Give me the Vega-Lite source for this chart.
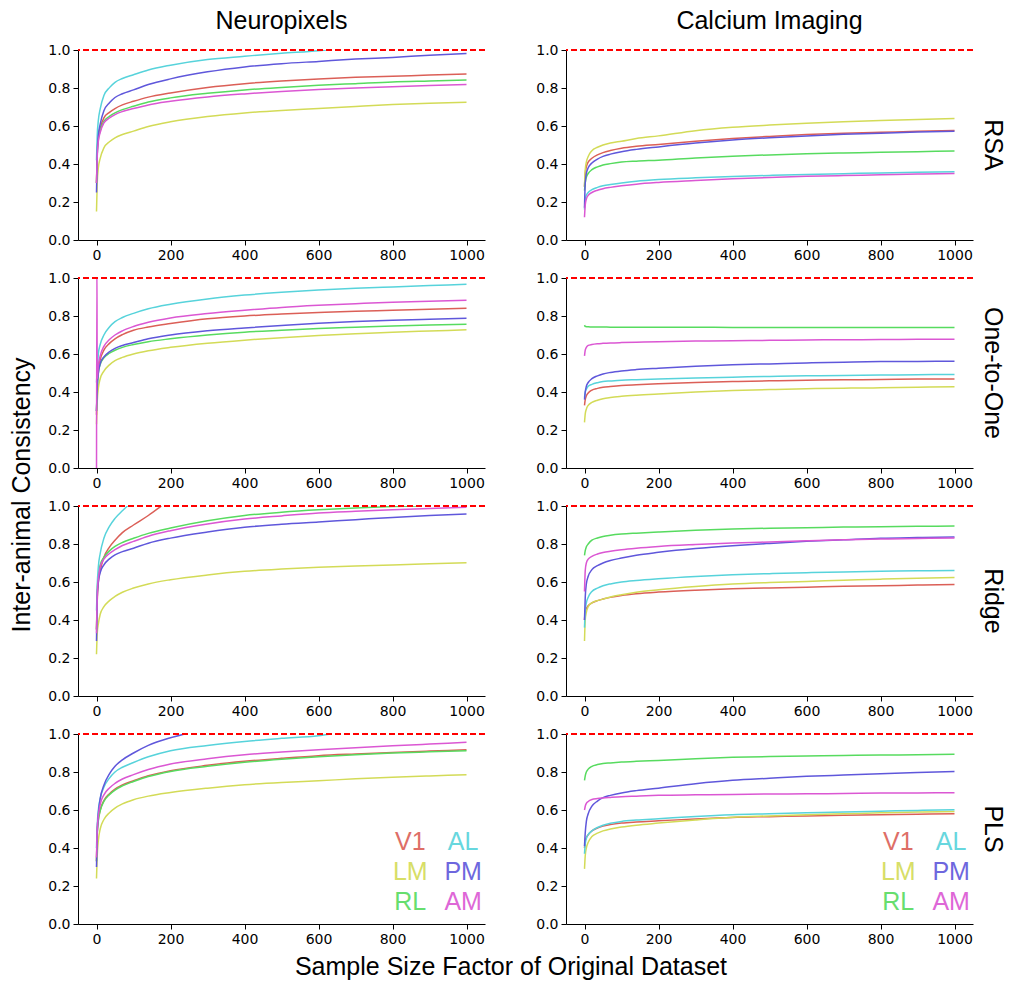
{
  "$schema": "https://vega.github.io/schema/vega-lite/v6.json",
  "background": "white",
  "padding": {"left": 9, "top": 9, "right": 5, "bottom": 5},
  "bounds": "flush",
  "spacing": {"row": 38, "column": 81},
  "data": {"values": [
    {"d":"Neuropixels","m":"RSA","x":0,"V1":0.30,"LM":0.15,"RL":0.30,"AL":0.42,"PM":0.25,"AM":0.30},
    {"d":"Neuropixels","m":"RSA","x":2,"V1":0.47,"LM":0.30,"RL":0.45,"AL":0.55,"PM":0.45,"AM":0.44},
    {"d":"Neuropixels","m":"RSA","x":5,"V1":0.55,"LM":0.38,"RL":0.53,"AL":0.63,"PM":0.55,"AM":0.52},
    {"d":"Neuropixels","m":"RSA","x":10,"V1":0.59,"LM":0.43,"RL":0.575,"AL":0.69,"PM":0.61,"AM":0.565},
    {"d":"Neuropixels","m":"RSA","x":20,"V1":0.643,"LM":0.485,"RL":0.625,"AL":0.76,"PM":0.68,"AM":0.616},
    {"d":"Neuropixels","m":"RSA","x":35,"V1":0.672,"LM":0.517,"RL":0.651,"AL":0.802,"PM":0.722,"AM":0.642},
    {"d":"Neuropixels","m":"RSA","x":50,"V1":0.692,"LM":0.538,"RL":0.669,"AL":0.83,"PM":0.75,"AM":0.66},
    {"d":"Neuropixels","m":"RSA","x":70,"V1":0.711,"LM":0.555,"RL":0.686,"AL":0.85,"PM":0.77,"AM":0.676},
    {"d":"Neuropixels","m":"RSA","x":100,"V1":0.73,"LM":0.573,"RL":0.704,"AL":0.87,"PM":0.79,"AM":0.692},
    {"d":"Neuropixels","m":"RSA","x":140,"V1":0.752,"LM":0.597,"RL":0.726,"AL":0.895,"PM":0.818,"AM":0.711},
    {"d":"Neuropixels","m":"RSA","x":200,"V1":0.774,"LM":0.622,"RL":0.748,"AL":0.92,"PM":0.848,"AM":0.73},
    {"d":"Neuropixels","m":"RSA","x":300,"V1":0.803,"LM":0.65,"RL":0.772,"AL":0.95,"PM":0.885,"AM":0.753},
    {"d":"Neuropixels","m":"RSA","x":400,"V1":0.823,"LM":0.669,"RL":0.79,"AL":0.967,"PM":0.911,"AM":0.769},
    {"d":"Neuropixels","m":"RSA","x":500,"V1":0.837,"LM":0.682,"RL":0.803,"AL":0.983,"PM":0.928,"AM":0.782},
    {"d":"Neuropixels","m":"RSA","x":600,"V1":0.848,"LM":0.692,"RL":0.814,"AL":0.996,"PM":0.94,"AM":0.792},
    {"d":"Neuropixels","m":"RSA","x":620,"AL":1.0},
    {"d":"Neuropixels","m":"RSA","x":700,"V1":0.856,"LM":0.703,"RL":0.823,"PM":0.952,"AM":0.80},
    {"d":"Neuropixels","m":"RSA","x":800,"V1":0.862,"LM":0.713,"RL":0.832,"PM":0.961,"AM":0.807},
    {"d":"Neuropixels","m":"RSA","x":900,"V1":0.868,"LM":0.72,"RL":0.837,"PM":0.972,"AM":0.813},
    {"d":"Neuropixels","m":"RSA","x":1000,"V1":0.874,"LM":0.725,"RL":0.842,"PM":0.981,"AM":0.818},

    {"d":"Calcium Imaging","m":"RSA","x":0,"V1":0.28,"LM":0.28,"RL":0.26,"AL":0.16,"PM":0.17,"AM":0.12},
    {"d":"Calcium Imaging","m":"RSA","x":2,"V1":0.35,"LM":0.37,"RL":0.30,"AL":0.215,"PM":0.30,"AM":0.185},
    {"d":"Calcium Imaging","m":"RSA","x":5,"V1":0.385,"LM":0.41,"RL":0.33,"AL":0.235,"PM":0.35,"AM":0.215},
    {"d":"Calcium Imaging","m":"RSA","x":10,"V1":0.41,"LM":0.44,"RL":0.35,"AL":0.25,"PM":0.38,"AM":0.235},
    {"d":"Calcium Imaging","m":"RSA","x":20,"V1":0.43,"LM":0.47,"RL":0.37,"AL":0.265,"PM":0.405,"AM":0.25},
    {"d":"Calcium Imaging","m":"RSA","x":35,"V1":0.448,"LM":0.488,"RL":0.385,"AL":0.277,"PM":0.426,"AM":0.262},
    {"d":"Calcium Imaging","m":"RSA","x":50,"V1":0.46,"LM":0.50,"RL":0.395,"AL":0.285,"PM":0.44,"AM":0.27},
    {"d":"Calcium Imaging","m":"RSA","x":70,"V1":0.471,"LM":0.51,"RL":0.402,"AL":0.292,"PM":0.452,"AM":0.277},
    {"d":"Calcium Imaging","m":"RSA","x":100,"V1":0.483,"LM":0.52,"RL":0.41,"AL":0.30,"PM":0.465,"AM":0.285},
    {"d":"Calcium Imaging","m":"RSA","x":140,"V1":0.493,"LM":0.534,"RL":0.415,"AL":0.309,"PM":0.477,"AM":0.294},
    {"d":"Calcium Imaging","m":"RSA","x":200,"V1":0.503,"LM":0.548,"RL":0.42,"AL":0.318,"PM":0.49,"AM":0.303},
    {"d":"Calcium Imaging","m":"RSA","x":300,"V1":0.52,"LM":0.575,"RL":0.432,"AL":0.327,"PM":0.51,"AM":0.313},
    {"d":"Calcium Imaging","m":"RSA","x":400,"V1":0.534,"LM":0.593,"RL":0.441,"AL":0.334,"PM":0.526,"AM":0.322},
    {"d":"Calcium Imaging","m":"RSA","x":500,"V1":0.545,"LM":0.605,"RL":0.448,"AL":0.34,"PM":0.538,"AM":0.329},
    {"d":"Calcium Imaging","m":"RSA","x":600,"V1":0.555,"LM":0.615,"RL":0.454,"AL":0.345,"PM":0.548,"AM":0.335},
    {"d":"Calcium Imaging","m":"RSA","x":700,"V1":0.562,"LM":0.623,"RL":0.458,"AL":0.349,"PM":0.556,"AM":0.339},
    {"d":"Calcium Imaging","m":"RSA","x":800,"V1":0.567,"LM":0.629,"RL":0.462,"AL":0.353,"PM":0.562,"AM":0.343},
    {"d":"Calcium Imaging","m":"RSA","x":900,"V1":0.572,"LM":0.634,"RL":0.465,"AL":0.356,"PM":0.568,"AM":0.347},
    {"d":"Calcium Imaging","m":"RSA","x":1000,"V1":0.576,"LM":0.639,"RL":0.468,"AL":0.359,"PM":0.573,"AM":0.35},

    {"d":"Neuropixels","m":"One-to-One","x":0,"V1":0.28,"LM":0.23,"RL":0.30,"AL":0.45,"PM":0.30,"AM":-0.1},
    {"d":"Neuropixels","m":"One-to-One","x":1,"AM":1.1},
    {"d":"Neuropixels","m":"One-to-One","x":2,"V1":0.44,"LM":0.35,"RL":0.42,"AL":0.52,"PM":0.43,"AM":0.47},
    {"d":"Neuropixels","m":"One-to-One","x":5,"V1":0.52,"LM":0.42,"RL":0.50,"AL":0.60,"PM":0.50,"AM":0.54},
    {"d":"Neuropixels","m":"One-to-One","x":10,"V1":0.57,"LM":0.47,"RL":0.545,"AL":0.65,"PM":0.55,"AM":0.59},
    {"d":"Neuropixels","m":"One-to-One","x":20,"V1":0.62,"LM":0.51,"RL":0.58,"AL":0.70,"PM":0.585,"AM":0.64},
    {"d":"Neuropixels","m":"One-to-One","x":35,"V1":0.656,"LM":0.543,"RL":0.604,"AL":0.742,"PM":0.612,"AM":0.676},
    {"d":"Neuropixels","m":"One-to-One","x":50,"V1":0.68,"LM":0.565,"RL":0.62,"AL":0.77,"PM":0.63,"AM":0.70},
    {"d":"Neuropixels","m":"One-to-One","x":70,"V1":0.702,"LM":0.582,"RL":0.635,"AL":0.792,"PM":0.645,"AM":0.722},
    {"d":"Neuropixels","m":"One-to-One","x":100,"V1":0.725,"LM":0.60,"RL":0.65,"AL":0.814,"PM":0.66,"AM":0.745},
    {"d":"Neuropixels","m":"One-to-One","x":140,"V1":0.742,"LM":0.617,"RL":0.665,"AL":0.838,"PM":0.68,"AM":0.767},
    {"d":"Neuropixels","m":"One-to-One","x":200,"V1":0.76,"LM":0.635,"RL":0.68,"AL":0.862,"PM":0.70,"AM":0.79},
    {"d":"Neuropixels","m":"One-to-One","x":300,"V1":0.785,"LM":0.657,"RL":0.70,"AL":0.89,"PM":0.722,"AM":0.813},
    {"d":"Neuropixels","m":"One-to-One","x":400,"V1":0.80,"LM":0.673,"RL":0.715,"AL":0.91,"PM":0.737,"AM":0.83},
    {"d":"Neuropixels","m":"One-to-One","x":500,"V1":0.81,"LM":0.686,"RL":0.725,"AL":0.925,"PM":0.75,"AM":0.845},
    {"d":"Neuropixels","m":"One-to-One","x":600,"V1":0.818,"LM":0.697,"RL":0.734,"AL":0.937,"PM":0.762,"AM":0.856},
    {"d":"Neuropixels","m":"One-to-One","x":700,"V1":0.825,"LM":0.706,"RL":0.741,"AL":0.946,"PM":0.771,"AM":0.865},
    {"d":"Neuropixels","m":"One-to-One","x":800,"V1":0.83,"LM":0.715,"RL":0.748,"AL":0.953,"PM":0.778,"AM":0.873},
    {"d":"Neuropixels","m":"One-to-One","x":900,"V1":0.836,"LM":0.721,"RL":0.753,"AL":0.96,"PM":0.783,"AM":0.878},
    {"d":"Neuropixels","m":"One-to-One","x":1000,"V1":0.841,"LM":0.727,"RL":0.757,"AL":0.967,"PM":0.788,"AM":0.883},

    {"d":"Calcium Imaging","m":"One-to-One","x":0,"V1":0.33,"LM":0.24,"RL":0.752,"AL":0.37,"PM":0.36,"AM":0.59},
    {"d":"Calcium Imaging","m":"One-to-One","x":2,"V1":0.36,"LM":0.285,"RL":0.745,"AL":0.40,"PM":0.40,"AM":0.62},
    {"d":"Calcium Imaging","m":"One-to-One","x":5,"V1":0.38,"LM":0.31,"RL":0.744,"AL":0.415,"PM":0.43,"AM":0.635},
    {"d":"Calcium Imaging","m":"One-to-One","x":10,"V1":0.395,"LM":0.33,"RL":0.743,"AL":0.43,"PM":0.45,"AM":0.645},
    {"d":"Calcium Imaging","m":"One-to-One","x":20,"V1":0.41,"LM":0.345,"RL":0.742,"AL":0.44,"PM":0.47,"AM":0.65},
    {"d":"Calcium Imaging","m":"One-to-One","x":35,"V1":0.419,"LM":0.357,"RL":0.742,"AL":0.449,"PM":0.485,"AM":0.654},
    {"d":"Calcium Imaging","m":"One-to-One","x":50,"V1":0.425,"LM":0.365,"RL":0.742,"AL":0.455,"PM":0.495,"AM":0.656},
    {"d":"Calcium Imaging","m":"One-to-One","x":70,"V1":0.429,"LM":0.371,"RL":0.741,"AL":0.458,"PM":0.503,"AM":0.658},
    {"d":"Calcium Imaging","m":"One-to-One","x":100,"V1":0.434,"LM":0.377,"RL":0.741,"AL":0.462,"PM":0.511,"AM":0.66},
    {"d":"Calcium Imaging","m":"One-to-One","x":140,"V1":0.438,"LM":0.383,"RL":0.741,"AL":0.465,"PM":0.518,"AM":0.662},
    {"d":"Calcium Imaging","m":"One-to-One","x":200,"V1":0.443,"LM":0.39,"RL":0.741,"AL":0.469,"PM":0.525,"AM":0.665},
    {"d":"Calcium Imaging","m":"One-to-One","x":300,"V1":0.45,"LM":0.40,"RL":0.741,"AL":0.474,"PM":0.535,"AM":0.668},
    {"d":"Calcium Imaging","m":"One-to-One","x":400,"V1":0.455,"LM":0.408,"RL":0.740,"AL":0.478,"PM":0.543,"AM":0.67},
    {"d":"Calcium Imaging","m":"One-to-One","x":500,"V1":0.459,"LM":0.413,"RL":0.740,"AL":0.482,"PM":0.548,"AM":0.672},
    {"d":"Calcium Imaging","m":"One-to-One","x":600,"V1":0.462,"LM":0.417,"RL":0.740,"AL":0.485,"PM":0.553,"AM":0.674},
    {"d":"Calcium Imaging","m":"One-to-One","x":700,"V1":0.464,"LM":0.42,"RL":0.740,"AL":0.487,"PM":0.557,"AM":0.675},
    {"d":"Calcium Imaging","m":"One-to-One","x":800,"V1":0.466,"LM":0.422,"RL":0.739,"AL":0.489,"PM":0.56,"AM":0.676},
    {"d":"Calcium Imaging","m":"One-to-One","x":900,"V1":0.468,"LM":0.425,"RL":0.739,"AL":0.491,"PM":0.561,"AM":0.677},
    {"d":"Calcium Imaging","m":"One-to-One","x":1000,"V1":0.469,"LM":0.427,"RL":0.739,"AL":0.492,"PM":0.562,"AM":0.678},

    {"d":"Neuropixels","m":"Ridge","x":0,"V1":0.35,"LM":0.22,"RL":0.35,"AL":0.45,"PM":0.29,"AM":0.33},
    {"d":"Neuropixels","m":"Ridge","x":2,"V1":0.50,"LM":0.33,"RL":0.55,"AL":0.58,"PM":0.52,"AM":0.54},
    {"d":"Neuropixels","m":"Ridge","x":5,"V1":0.60,"LM":0.38,"RL":0.63,"AL":0.68,"PM":0.60,"AM":0.62},
    {"d":"Neuropixels","m":"Ridge","x":10,"V1":0.66,"LM":0.43,"RL":0.69,"AL":0.75,"PM":0.65,"AM":0.68},
    {"d":"Neuropixels","m":"Ridge","x":20,"V1":0.73,"LM":0.47,"RL":0.73,"AL":0.83,"PM":0.69,"AM":0.72},
    {"d":"Neuropixels","m":"Ridge","x":35,"V1":0.784,"LM":0.502,"RL":0.764,"AL":0.893,"PM":0.722,"AM":0.75},
    {"d":"Neuropixels","m":"Ridge","x":50,"V1":0.82,"LM":0.524,"RL":0.787,"AL":0.935,"PM":0.743,"AM":0.77},
    {"d":"Neuropixels","m":"Ridge","x":70,"V1":0.86,"LM":0.546,"RL":0.808,"AL":0.975,"PM":0.76,"AM":0.792},
    {"d":"Neuropixels","m":"Ridge","x":84,"AL":1.0},
    {"d":"Neuropixels","m":"Ridge","x":100,"V1":0.90,"LM":0.568,"RL":0.83,"PM":0.778,"AM":0.814},
    {"d":"Neuropixels","m":"Ridge","x":140,"V1":0.95,"LM":0.59,"RL":0.856,"PM":0.804,"AM":0.841},
    {"d":"Neuropixels","m":"Ridge","x":175,"V1":1.0},
    {"d":"Neuropixels","m":"Ridge","x":200,"LM":0.612,"RL":0.884,"PM":0.831,"AM":0.87},
    {"d":"Neuropixels","m":"Ridge","x":300,"LM":0.637,"RL":0.922,"PM":0.863,"AM":0.905},
    {"d":"Neuropixels","m":"Ridge","x":400,"LM":0.656,"RL":0.95,"PM":0.888,"AM":0.931},
    {"d":"Neuropixels","m":"Ridge","x":500,"LM":0.668,"RL":0.967,"PM":0.904,"AM":0.948},
    {"d":"Neuropixels","m":"Ridge","x":600,"LM":0.677,"RL":0.98,"PM":0.916,"AM":0.963},
    {"d":"Neuropixels","m":"Ridge","x":700,"LM":0.684,"RL":0.99,"PM":0.928,"AM":0.972},
    {"d":"Neuropixels","m":"Ridge","x":800,"LM":0.69,"RL":0.997,"PM":0.94,"AM":0.98},
    {"d":"Neuropixels","m":"Ridge","x":870,"RL":1.0},
    {"d":"Neuropixels","m":"Ridge","x":900,"LM":0.696,"PM":0.95,"AM":0.987},
    {"d":"Neuropixels","m":"Ridge","x":1000,"LM":0.701,"PM":0.958,"AM":0.993},

    {"d":"Calcium Imaging","m":"Ridge","x":0,"V1":0.40,"LM":0.29,"RL":0.74,"AL":0.36,"PM":0.40,"AM":0.55},
    {"d":"Calcium Imaging","m":"Ridge","x":2,"V1":0.445,"LM":0.40,"RL":0.765,"AL":0.45,"PM":0.52,"AM":0.66},
    {"d":"Calcium Imaging","m":"Ridge","x":5,"V1":0.46,"LM":0.44,"RL":0.785,"AL":0.49,"PM":0.59,"AM":0.70},
    {"d":"Calcium Imaging","m":"Ridge","x":10,"V1":0.475,"LM":0.47,"RL":0.80,"AL":0.52,"PM":0.63,"AM":0.72},
    {"d":"Calcium Imaging","m":"Ridge","x":20,"V1":0.49,"LM":0.49,"RL":0.82,"AL":0.55,"PM":0.665,"AM":0.735},
    {"d":"Calcium Imaging","m":"Ridge","x":35,"V1":0.502,"LM":0.502,"RL":0.832,"AL":0.568,"PM":0.686,"AM":0.747},
    {"d":"Calcium Imaging","m":"Ridge","x":50,"V1":0.51,"LM":0.51,"RL":0.84,"AL":0.58,"PM":0.70,"AM":0.755},
    {"d":"Calcium Imaging","m":"Ridge","x":70,"V1":0.519,"LM":0.521,"RL":0.846,"AL":0.59,"PM":0.713,"AM":0.762},
    {"d":"Calcium Imaging","m":"Ridge","x":100,"V1":0.529,"LM":0.533,"RL":0.852,"AL":0.60,"PM":0.726,"AM":0.77},
    {"d":"Calcium Imaging","m":"Ridge","x":140,"V1":0.538,"LM":0.546,"RL":0.857,"AL":0.608,"PM":0.741,"AM":0.778},
    {"d":"Calcium Imaging","m":"Ridge","x":200,"V1":0.547,"LM":0.559,"RL":0.863,"AL":0.617,"PM":0.756,"AM":0.787},
    {"d":"Calcium Imaging","m":"Ridge","x":300,"V1":0.557,"LM":0.576,"RL":0.872,"AL":0.629,"PM":0.776,"AM":0.797},
    {"d":"Calcium Imaging","m":"Ridge","x":400,"V1":0.564,"LM":0.589,"RL":0.879,"AL":0.638,"PM":0.791,"AM":0.805},
    {"d":"Calcium Imaging","m":"Ridge","x":500,"V1":0.569,"LM":0.597,"RL":0.883,"AL":0.644,"PM":0.803,"AM":0.811},
    {"d":"Calcium Imaging","m":"Ridge","x":600,"V1":0.573,"LM":0.603,"RL":0.886,"AL":0.649,"PM":0.814,"AM":0.817},
    {"d":"Calcium Imaging","m":"Ridge","x":700,"V1":0.577,"LM":0.609,"RL":0.889,"AL":0.653,"PM":0.822,"AM":0.822},
    {"d":"Calcium Imaging","m":"Ridge","x":800,"V1":0.58,"LM":0.615,"RL":0.891,"AL":0.656,"PM":0.83,"AM":0.826},
    {"d":"Calcium Imaging","m":"Ridge","x":900,"V1":0.584,"LM":0.62,"RL":0.893,"AL":0.659,"PM":0.834,"AM":0.829},
    {"d":"Calcium Imaging","m":"Ridge","x":1000,"V1":0.587,"LM":0.624,"RL":0.895,"AL":0.661,"PM":0.837,"AM":0.831},

    {"d":"Neuropixels","m":"PLS","x":0,"V1":0.33,"LM":0.24,"RL":0.33,"AL":0.40,"PM":0.30,"AM":0.35},
    {"d":"Neuropixels","m":"PLS","x":2,"V1":0.48,"LM":0.36,"RL":0.475,"AL":0.52,"PM":0.48,"AM":0.50},
    {"d":"Neuropixels","m":"PLS","x":5,"V1":0.55,"LM":0.44,"RL":0.545,"AL":0.60,"PM":0.58,"AM":0.57},
    {"d":"Neuropixels","m":"PLS","x":10,"V1":0.60,"LM":0.50,"RL":0.595,"AL":0.66,"PM":0.66,"AM":0.63},
    {"d":"Neuropixels","m":"PLS","x":20,"V1":0.65,"LM":0.55,"RL":0.645,"AL":0.72,"PM":0.73,"AM":0.68},
    {"d":"Neuropixels","m":"PLS","x":35,"V1":0.686,"LM":0.586,"RL":0.681,"AL":0.768,"PM":0.79,"AM":0.716},
    {"d":"Neuropixels","m":"PLS","x":50,"V1":0.71,"LM":0.61,"RL":0.705,"AL":0.80,"PM":0.83,"AM":0.74},
    {"d":"Neuropixels","m":"PLS","x":70,"V1":0.732,"LM":0.632,"RL":0.727,"AL":0.825,"PM":0.864,"AM":0.763},
    {"d":"Neuropixels","m":"PLS","x":100,"V1":0.754,"LM":0.654,"RL":0.75,"AL":0.85,"PM":0.90,"AM":0.786},
    {"d":"Neuropixels","m":"PLS","x":140,"V1":0.78,"LM":0.673,"RL":0.776,"AL":0.88,"PM":0.94,"AM":0.813},
    {"d":"Neuropixels","m":"PLS","x":200,"V1":0.807,"LM":0.692,"RL":0.803,"AL":0.912,"PM":0.98,"AM":0.842},
    {"d":"Neuropixels","m":"PLS","x":238,"PM":1.0},
    {"d":"Neuropixels","m":"PLS","x":300,"V1":0.835,"LM":0.715,"RL":0.83,"AL":0.94,"AM":0.87},
    {"d":"Neuropixels","m":"PLS","x":400,"V1":0.856,"LM":0.733,"RL":0.851,"AL":0.961,"AM":0.891},
    {"d":"Neuropixels","m":"PLS","x":500,"V1":0.872,"LM":0.745,"RL":0.867,"AL":0.977,"AM":0.905},
    {"d":"Neuropixels","m":"PLS","x":600,"V1":0.886,"LM":0.754,"RL":0.88,"AL":0.991,"AM":0.917},
    {"d":"Neuropixels","m":"PLS","x":634,"AL":1.0},
    {"d":"Neuropixels","m":"PLS","x":700,"V1":0.895,"LM":0.764,"RL":0.891,"AM":0.928},
    {"d":"Neuropixels","m":"PLS","x":800,"V1":0.903,"LM":0.772,"RL":0.90,"AM":0.938},
    {"d":"Neuropixels","m":"PLS","x":900,"V1":0.91,"LM":0.779,"RL":0.906,"AM":0.947},
    {"d":"Neuropixels","m":"PLS","x":1000,"V1":0.917,"LM":0.786,"RL":0.912,"AM":0.956},

    {"d":"Calcium Imaging","m":"PLS","x":0,"V1":0.40,"LM":0.29,"RL":0.756,"AL":0.37,"PM":0.41,"AM":0.60},
    {"d":"Calcium Imaging","m":"PLS","x":2,"V1":0.44,"LM":0.36,"RL":0.78,"AL":0.42,"PM":0.48,"AM":0.62},
    {"d":"Calcium Imaging","m":"PLS","x":5,"V1":0.455,"LM":0.40,"RL":0.80,"AL":0.45,"PM":0.54,"AM":0.635},
    {"d":"Calcium Imaging","m":"PLS","x":10,"V1":0.47,"LM":0.43,"RL":0.815,"AL":0.47,"PM":0.58,"AM":0.645},
    {"d":"Calcium Imaging","m":"PLS","x":20,"V1":0.49,"LM":0.46,"RL":0.83,"AL":0.49,"PM":0.62,"AM":0.655},
    {"d":"Calcium Imaging","m":"PLS","x":35,"V1":0.505,"LM":0.478,"RL":0.839,"AL":0.508,"PM":0.647,"AM":0.66},
    {"d":"Calcium Imaging","m":"PLS","x":50,"V1":0.515,"LM":0.49,"RL":0.845,"AL":0.52,"PM":0.665,"AM":0.663},
    {"d":"Calcium Imaging","m":"PLS","x":70,"V1":0.523,"LM":0.50,"RL":0.848,"AL":0.53,"PM":0.677,"AM":0.666},
    {"d":"Calcium Imaging","m":"PLS","x":100,"V1":0.531,"LM":0.51,"RL":0.852,"AL":0.54,"PM":0.69,"AM":0.67},
    {"d":"Calcium Imaging","m":"PLS","x":140,"V1":0.537,"LM":0.52,"RL":0.856,"AL":0.547,"PM":0.702,"AM":0.673},
    {"d":"Calcium Imaging","m":"PLS","x":200,"V1":0.543,"LM":0.531,"RL":0.861,"AL":0.554,"PM":0.715,"AM":0.677},
    {"d":"Calcium Imaging","m":"PLS","x":300,"V1":0.553,"LM":0.548,"RL":0.87,"AL":0.566,"PM":0.738,"AM":0.68},
    {"d":"Calcium Imaging","m":"PLS","x":400,"V1":0.561,"LM":0.562,"RL":0.877,"AL":0.575,"PM":0.756,"AM":0.682},
    {"d":"Calcium Imaging","m":"PLS","x":500,"V1":0.565,"LM":0.569,"RL":0.881,"AL":0.58,"PM":0.767,"AM":0.684},
    {"d":"Calcium Imaging","m":"PLS","x":600,"V1":0.569,"LM":0.575,"RL":0.884,"AL":0.585,"PM":0.777,"AM":0.685},
    {"d":"Calcium Imaging","m":"PLS","x":700,"V1":0.572,"LM":0.58,"RL":0.887,"AL":0.59,"PM":0.784,"AM":0.687},
    {"d":"Calcium Imaging","m":"PLS","x":800,"V1":0.575,"LM":0.585,"RL":0.889,"AL":0.594,"PM":0.791,"AM":0.689},
    {"d":"Calcium Imaging","m":"PLS","x":900,"V1":0.578,"LM":0.589,"RL":0.891,"AL":0.598,"PM":0.797,"AM":0.69},
    {"d":"Calcium Imaging","m":"PLS","x":1000,"V1":0.58,"LM":0.592,"RL":0.893,"AL":0.601,"PM":0.803,"AM":0.691},

    {"d":"Neuropixels","m":"PLS","lab":"V1"},
    {"d":"Neuropixels","m":"PLS","lab":"LM"},
    {"d":"Neuropixels","m":"PLS","lab":"RL"},
    {"d":"Neuropixels","m":"PLS","lab":"AL"},
    {"d":"Neuropixels","m":"PLS","lab":"PM"},
    {"d":"Neuropixels","m":"PLS","lab":"AM"},
    {"d":"Calcium Imaging","m":"PLS","lab":"V1"},
    {"d":"Calcium Imaging","m":"PLS","lab":"LM"},
    {"d":"Calcium Imaging","m":"PLS","lab":"RL"},
    {"d":"Calcium Imaging","m":"PLS","lab":"AL"},
    {"d":"Calcium Imaging","m":"PLS","lab":"PM"},
    {"d":"Calcium Imaging","m":"PLS","lab":"AM"}
  ]},
  "facet": {
    "row": {
      "field": "m", "type": "nominal",
      "sort": ["RSA", "One-to-One", "Ridge", "PLS"],
      "title": "Inter-animal Consistency",
      "header": {
        "labelOrient": "right", "titleOrient": "left",
        "labelAngle": 90, "labelAlign": "center", "labelBaseline": "alphabetic",
        "labelFont": "Liberation Sans", "labelFontSize": 25, "labelColor": "black", "labelPadding": -13,
        "titleFont": "Liberation Sans", "titleFontSize": 25, "titleFontWeight": "normal", "titleColor": "black",
        "titleAngle": 270, "titleBaseline": "alphabetic", "titlePadding": 13
      }
    },
    "column": {
      "field": "d", "type": "nominal",
      "sort": ["Neuropixels", "Calcium Imaging"],
      "title": "Sample Size Factor of Original Dataset",
      "header": {
        "labelOrient": "top", "titleOrient": "bottom",
        "labelAngle": 0, "labelAlign": "center", "labelBaseline": "alphabetic",
        "labelFont": "Liberation Sans", "labelFontSize": 25, "labelColor": "black", "labelPadding": -4,
        "titleFont": "Liberation Sans", "titleFontSize": 25, "titleFontWeight": "normal", "titleColor": "black",
        "titleBaseline": "alphabetic", "titlePadding": 41
      }
    }
  },
  "spec": {
    "width": 407,
    "height": 190,
    "encoding": {
      "x": {"type": "quantitative",
            "scale": {"domain": [-50, 1050], "nice": false, "zero": false},
            "axis": {"values": [0, 200, 400, 600, 800, 1000], "format": "d", "title": null, "labelOverlap": false}},
      "y": {"type": "quantitative",
            "scale": {"domain": [0, 1], "nice": false, "zero": false},
            "axis": {"values": [0, 0.2, 0.4, 0.6, 0.8, 1], "format": ".1f", "title": null, "labelOverlap": false}},
      "color": {"type": "nominal",
                "scale": {"domain": ["V1", "LM", "RL", "AL", "PM", "AM"],
                          "range": ["#db5f57", "#d3db57", "#57db5f", "#57d3db", "#5f57db", "#db57d3"]},
                "legend": null}
    },
    "layer": [
      {
        "transform": [
          {"fold": ["V1", "LM", "RL", "AL", "PM", "AM"], "as": ["area", "value"]},
          {"filter": "isValid(datum.value) && isValid(datum.x)"}
        ],
        "mark": {"type": "line", "strokeWidth": 1.5, "clip": true, "interpolate": "monotone"},
        "encoding": {
          "x": {"field": "x"},
          "y": {"field": "value"},
          "color": {"field": "area"},
          "order": {"field": "x", "type": "quantitative"}
        }
      },
      {
        "transform": [{"filter": "datum.x === 0"}],
        "mark": {"type": "rule", "color": "#ff0000", "strokeWidth": 2, "strokeDash": [6, 3]},
        "encoding": {"y": {"datum": 1}}
      },
      {
        "transform": [{"filter": "datum.lab === 'V1'"}],
        "mark": {"type": "text", "font": "Liberation Sans", "fontSize": 25, "align": "center", "baseline": "middle", "opacity": 0.9},
        "encoding": {"x": {"datum": 848}, "y": {"datum": 0.432}, "text": {"field": "lab"}, "color": {"field": "lab"}}
      },
      {
        "transform": [{"filter": "datum.lab === 'LM'"}],
        "mark": {"type": "text", "font": "Liberation Sans", "fontSize": 25, "align": "center", "baseline": "middle", "opacity": 0.9},
        "encoding": {"x": {"datum": 848}, "y": {"datum": 0.274}, "text": {"field": "lab"}, "color": {"field": "lab"}}
      },
      {
        "transform": [{"filter": "datum.lab === 'RL'"}],
        "mark": {"type": "text", "font": "Liberation Sans", "fontSize": 25, "align": "center", "baseline": "middle", "opacity": 0.9},
        "encoding": {"x": {"datum": 848}, "y": {"datum": 0.116}, "text": {"field": "lab"}, "color": {"field": "lab"}}
      },
      {
        "transform": [{"filter": "datum.lab === 'AL'"}],
        "mark": {"type": "text", "font": "Liberation Sans", "fontSize": 25, "align": "center", "baseline": "middle", "opacity": 0.9},
        "encoding": {"x": {"datum": 991}, "y": {"datum": 0.432}, "text": {"field": "lab"}, "color": {"field": "lab"}}
      },
      {
        "transform": [{"filter": "datum.lab === 'PM'"}],
        "mark": {"type": "text", "font": "Liberation Sans", "fontSize": 25, "align": "center", "baseline": "middle", "opacity": 0.9},
        "encoding": {"x": {"datum": 991}, "y": {"datum": 0.274}, "text": {"field": "lab"}, "color": {"field": "lab"}}
      },
      {
        "transform": [{"filter": "datum.lab === 'AM'"}],
        "mark": {"type": "text", "font": "Liberation Sans", "fontSize": 25, "align": "center", "baseline": "middle", "opacity": 0.9},
        "encoding": {"x": {"datum": 991}, "y": {"datum": 0.116}, "text": {"field": "lab"}, "color": {"field": "lab"}}
      }
    ]
  },
  "resolve": {"axis": {"x": "independent", "y": "independent"}},
  "config": {
    "view": {"stroke": null},
    "axis": {
      "grid": false, "labelOverlap": false,
      "domainColor": "black", "domainWidth": 1,
      "tickColor": "black", "tickSize": 5, "tickWidth": 1,
      "labelFont": "DejaVu Sans", "labelFontSize": 14, "labelColor": "black", "labelPadding": 3
    }
  }
}
